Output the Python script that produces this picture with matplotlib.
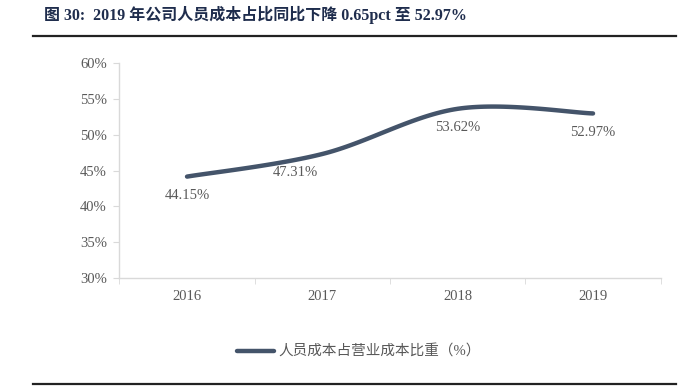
import matplotlib
matplotlib.use('Agg')
import matplotlib.pyplot as plt
import numpy as np

years = ['2016', '2017', '2018', '2019']
ratio = [44.15, 47.31, 53.62, 52.97]
label_txt = ['44.15%', '47.31%', '53.62%', '52.97%']
title = '图 30:  2019 年公司人员成本占比同比下降 0.65pct 至 52.97%'
legend_txt = '人员成本占营业成本比重（%）'

line_col = '#44546A'
txt_col = '#595959'
grid_col = '#D9D9D9'
serif_cjk = ['Liberation Serif', 'Noto Sans CJK SC']


def smooth(xs, ys, n=40):
    # catmull-rom style smoothing like the office "smoothed line"
    xs = np.asarray(xs, float)
    ys = np.asarray(ys, float)
    px = np.concatenate([[xs[0]], xs, [xs[-1]]])
    py = np.concatenate([[ys[0]], ys, [ys[-1]]])
    ox, oy = [], []
    for i in range(1, len(px) - 2):
        t = np.linspace(0, 1, n)
        mx0, mx1 = (px[i + 1] - px[i - 1]) / 2, (px[i + 2] - px[i]) / 2
        my0, my1 = (py[i + 1] - py[i - 1]) / 2, (py[i + 2] - py[i]) / 2
        h00 = 2 * t**3 - 3 * t**2 + 1
        h10 = t**3 - 2 * t**2 + t
        h01 = -2 * t**3 + 3 * t**2
        h11 = t**3 - t**2
        ox.append(h00 * px[i] + h10 * mx0 + h01 * px[i + 1] + h11 * mx1)
        oy.append(h00 * py[i] + h10 * my0 + h01 * py[i + 1] + h11 * my1)
    return np.concatenate(ox), np.concatenate(oy)


fig = plt.figure(figsize=(6.94, 3.92), dpi=100)
ax = fig.add_axes([0.172, 0.291, 0.780, 0.548])

x = np.arange(len(years))
sx, sy = smooth(x, ratio)
ln, = ax.plot(sx, sy, color=line_col, lw=3.2, solid_capstyle='round')

offsets = [(0, -19), (-27, -19), (0, -19), (0, -19)]
for xi, yi, t, (dx, dy) in zip(x, ratio, label_txt, offsets):
    ax.annotate(t, (xi, yi), xytext=(dx, dy), textcoords='offset pixels',
                ha='center', va='center', fontsize=10.5, color=txt_col,
                family='Liberation Serif')

ax.set_xlim(-0.5, len(years) - 0.5)
ax.set_ylim(30, 60)
ax.set_yticks(np.arange(30, 61, 5))
ax.set_yticklabels(['%d%%' % v for v in range(30, 61, 5)])
ax.set_xticks(x)
ax.set_xticklabels(years)
ax.set_xticks(np.arange(-0.5, len(years), 1), minor=True)
ax.tick_params(axis='x', which='major', length=0, pad=9)
ax.tick_params(axis='x', which='minor', length=4, color=grid_col)
ax.tick_params(axis='y', length=4, color=grid_col, pad=5)
for lab in ax.get_xticklabels() + ax.get_yticklabels():
    lab.set_family('Liberation Serif')
    lab.set_fontsize(10.5)
    lab.set_color(txt_col)
for s in ['top', 'right']:
    ax.spines[s].set_visible(False)
for s in ['left', 'bottom']:
    ax.spines[s].set_color(grid_col)
    ax.spines[s].set_linewidth(1)

leg = fig.legend([ln], [legend_txt], loc='center', bbox_to_anchor=(0.517, 0.103),
                 frameon=False, handlelength=2.5, handletextpad=0.3,
                 prop={'family': serif_cjk, 'size': 10.5})
for t in leg.get_texts():
    t.set_color(txt_col)

fig.text(0.063, 0.962, title, ha='left', va='center', fontsize=11.5,
         fontweight='bold', color='#1F2D4D', family=serif_cjk)
fig.add_artist(plt.Line2D([0.048, 0.974], [0.909, 0.909], color='#222222', lw=1.6))
fig.add_artist(plt.Line2D([0.048, 0.974], [0.020, 0.020], color='#222222', lw=1.6))

fig.savefig('out.png', dpi=100)
